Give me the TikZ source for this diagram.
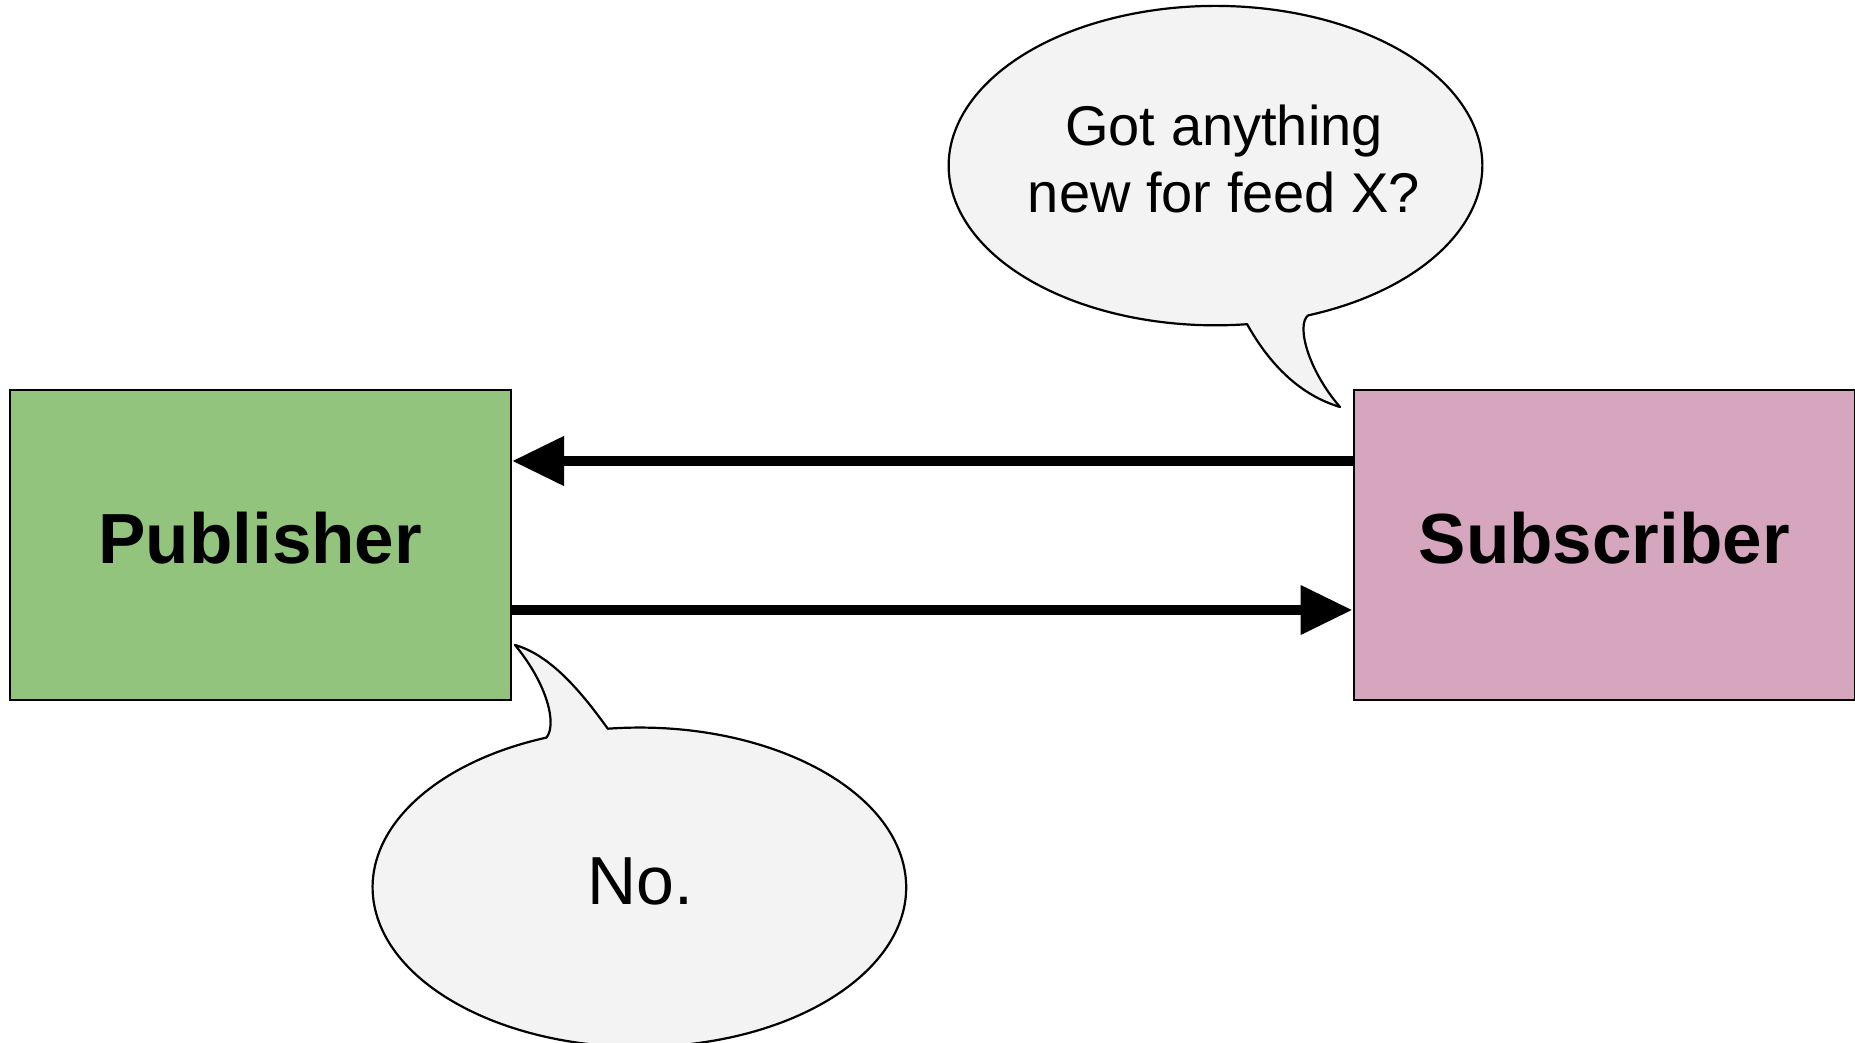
\documentclass[tikz,border=0pt]{standalone}
\usepackage{fontspec}
\setmainfont{Liberation Sans}
\usetikzlibrary{arrows.meta}

\definecolor{pubgreen}{HTML}{93C47D}
\definecolor{subpink}{HTML}{D5A6BD}
\definecolor{bubblegray}{HTML}{F3F3F3}

\tikzset{
  actor/.style={draw=black, line width=2pt, minimum width=501.5pt,
    minimum height=310pt, inner sep=0pt, text depth=14pt,
    font=\fontsize{71}{85}\selectfont\bfseries},
  bubble/.style={fill=bubblegray, draw=black, line width=2.2pt, line join=round},
  saytext/.style={align=center, inner sep=0pt,
    font=\fontsize{56}{67}\selectfont},
  flow/.style={line width=10.5pt, -{Triangle[length=52pt, width=47pt]}},
}

\begin{document}
\begin{tikzpicture}[x=1pt, y=-1pt]
  \useasboundingbox (0,0) rectangle (1855,1043);

  % the two parties
  \node[actor, fill=pubgreen] (pub) at (260.25,545) {Publisher};
  \node[actor, fill=subpink] (sub) at (1604.25,545) {Subscriber};

  % request and reply
  \draw[flow] ([yshift=84pt]sub.west) -- ([yshift=84pt]pub.east);
  \draw[flow] ([yshift=-65pt]pub.east) -- ([yshift=-65pt]sub.west);

  % speech bubble of the subscriber
  \draw[bubble] (1308.05,315.4)
    arc[start angle=69.7, end angle=-276.8, x radius=266.8, y radius=159.7]
    .. controls (1270,365) and (1300,395) .. (1340,407)
    .. controls (1308,370) and (1296,325) .. cycle;
  \node[saytext] (ask) at (1224,159) {Got anything\\new for feed X?};

  % speech bubble of the publisher
  \draw[bubble] (607.8,728.7)
    arc[start angle=-96.8, end angle=249.6, x radius=266.8, y radius=159.7]
    .. controls (557,725) and (548,685) .. (515,645)
    .. controls (550,655) and (580,690) .. cycle;
  \node[saytext, font=\fontsize{68}{80}\selectfont] (answer) at (640,881) {No.};
\end{tikzpicture}
\end{document}
